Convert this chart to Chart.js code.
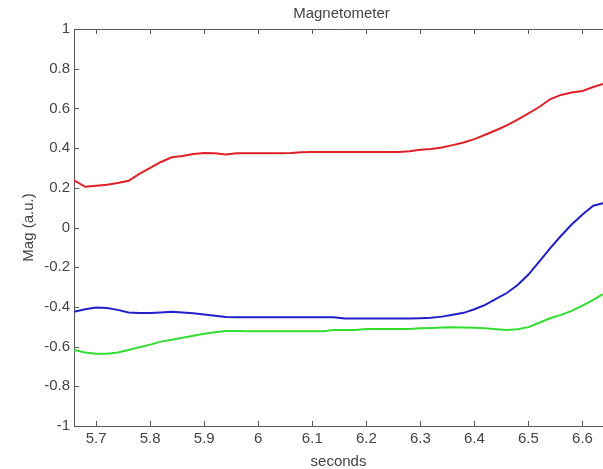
<!DOCTYPE html>
<html>
<head>
<meta charset="utf-8">
<script src="https://cdn.jsdelivr.net/npm/chart.js@4/dist/chart.umd.min.js"></script>
<style>
  html, body { margin: 0; padding: 0; background: #fff; }
  #wrap { width: 603px; height: 469px; }
</style>
</head>
<body>
<div id="wrap"><canvas id="myChart" width="603" height="469"></canvas></div>
<script>
// time samples (seconds)
const seconds = [5.659, 5.68, 5.70, 5.72, 5.74, 5.76, 5.78, 5.80, 5.82, 5.84, 5.86, 5.88, 5.90,
    5.92, 5.94, 5.96, 5.98, 6.00, 6.02, 6.04, 6.06, 6.08, 6.10, 6.12, 6.14, 6.16, 6.18, 6.20,
    6.22, 6.24, 6.26, 6.28, 6.30, 6.32, 6.34, 6.36, 6.38, 6.40, 6.42, 6.44, 6.46, 6.48, 6.50,
    6.52, 6.54, 6.56, 6.58, 6.60, 6.62, 6.638];

// magnetometer axes
const magRed = [0.238, 0.205, 0.210, 0.215, 0.224, 0.235, 0.270, 0.300, 0.330, 0.354, 0.360, 0.370, 0.375,
    0.374, 0.368, 0.374, 0.374, 0.374, 0.374, 0.374, 0.375, 0.379, 0.380, 0.380, 0.380, 0.380, 0.380, 0.380,
    0.380, 0.380, 0.380, 0.384, 0.392, 0.396, 0.403, 0.415, 0.428, 0.445, 0.467, 0.490, 0.514, 0.544, 0.575,
    0.607, 0.646, 0.668, 0.680, 0.688, 0.708, 0.723];

const magBlue = [-0.424, -0.412, -0.403, -0.406, -0.415, -0.428, -0.431, -0.431, -0.428, -0.424, -0.428, -0.432, -0.438,
    -0.445, -0.451, -0.452, -0.452, -0.452, -0.452, -0.452, -0.452, -0.452, -0.452, -0.452, -0.452, -0.459, -0.459, -0.459,
    -0.459, -0.459, -0.459, -0.459, -0.457, -0.455, -0.449, -0.440, -0.430, -0.412, -0.390, -0.360, -0.330, -0.290, -0.237,
    -0.172, -0.105, -0.043, 0.015, 0.066, 0.110, 0.122];

const magGreen = [-0.617, -0.630, -0.636, -0.636, -0.630, -0.617, -0.603, -0.590, -0.575, -0.566, -0.555, -0.545, -0.535,
    -0.528, -0.522, -0.521, -0.523, -0.523, -0.523, -0.523, -0.523, -0.523, -0.523, -0.523, -0.516, -0.516, -0.516, -0.511,
    -0.511, -0.511, -0.511, -0.511, -0.508, -0.506, -0.504, -0.503, -0.504, -0.505, -0.508, -0.512, -0.516, -0.512, -0.502,
    -0.480, -0.457, -0.440, -0.420, -0.394, -0.365, -0.335];

// tick labels
const xTicks = [5.7, 5.8, 5.9, 6.0, 6.1, 6.2, 6.3, 6.4, 6.5, 6.6];
const yTicks = [-1, -0.8, -0.6, -0.4, -0.2, 0, 0.2, 0.4, 0.6, 0.8, 1];

const titleText = 'Magnetometer';
const textColor = '#444444';
const axisColor = '#5a5a5a';
const fontFamily = '"Liberation Sans", Arial, sans-serif';

function toPoints(values) {
    return values.map((v, i) => ({ x: seconds[i], y: v }));
}

// box, inward ticks and title, matlab style
const matlabAxes = {
    id: 'matlabAxes',
    afterDraw(chart) {
        const { ctx, chartArea } = chart;
        const xs = chart.scales.x;
        const ys = chart.scales.y;
        ctx.save();
        ctx.strokeStyle = axisColor;
        ctx.lineWidth = 1;
        ctx.beginPath();
        ctx.moveTo(chartArea.left, chartArea.top + 0.5);
        ctx.lineTo(chartArea.right, chartArea.top + 0.5);
        xs.ticks.forEach(t => {
            const px = Math.round(xs.getPixelForValue(t.value)) + 0.5;
            ctx.moveTo(px, chartArea.bottom);
            ctx.lineTo(px, chartArea.bottom - 5);
            ctx.moveTo(px, chartArea.top);
            ctx.lineTo(px, chartArea.top + 5);
        });
        ys.ticks.forEach(t => {
            const py = Math.round(ys.getPixelForValue(t.value)) + 0.5;
            ctx.moveTo(chartArea.left, py);
            ctx.lineTo(chartArea.left + 5, py);
        });
        ctx.stroke();

        ctx.fillStyle = textColor;
        ctx.font = '15px ' + fontFamily;
        ctx.textAlign = 'center';
        ctx.textBaseline = 'middle';
        ctx.fillText(titleText, (chartArea.left + chartArea.right) / 2 + 3, 14);
        ctx.restore();
    }
};

const ctx = document.getElementById('myChart');

const chart = new Chart(ctx, {
    type: 'line',
    data: {
        datasets: [
            { label: 'x', data: toPoints(magRed), borderColor: 'rgb(222,32,40)', borderWidth: 2, pointRadius: 0 },
            { label: 'y', data: toPoints(magBlue), borderColor: 'rgb(32,32,200)', borderWidth: 2, pointRadius: 0 },
            { label: 'z', data: toPoints(magGreen), borderColor: 'rgb(50,222,50)', borderWidth: 2, pointRadius: 0 }
        ]
    },
    options: {
        responsive: false,
        animation: false,
        layout: { padding: { top: 29, left: 0, right: 0, bottom: 0 } },
        plugins: {
            legend: { display: false },
            title: { display: false },
            tooltip: { enabled: false }
        },
        scales: {
            x: {
                type: 'linear',
                min: 5.659,
                max: 6.638,
                afterBuildTicks: scale => { scale.ticks = xTicks.map(v => ({ value: v })); },
                afterFit: scale => { scale.height = 43; },
                grid: { display: false, drawTicks: false },
                border: { display: true, color: axisColor, width: 1 },
                ticks: {
                    padding: 4,
                    color: textColor,
                    font: { family: fontFamily, size: 15 },
                    maxRotation: 0,
                    autoSkip: false,
                    callback: v => String(Math.round(v * 10) / 10)
                },
                title: {
                    display: true,
                    text: 'seconds',
                    color: textColor,
                    font: { family: fontFamily, size: 15 },
                    padding: { top: 0, bottom: -2 }
                }
            },
            y: {
                min: -1,
                max: 1,
                afterBuildTicks: scale => { scale.ticks = yTicks.map(v => ({ value: v })); },
                afterFit: scale => { scale.width = 74; },
                grid: { display: false, drawTicks: false },
                border: { display: true, color: axisColor, width: 1 },
                ticks: {
                    padding: 4,
                    color: textColor,
                    font: { family: fontFamily, size: 15 },
                    autoSkip: false,
                    callback: v => String(Math.round(v * 10) / 10)
                },
                title: {
                    display: true,
                    text: 'Mag (a.u.)',
                    color: textColor,
                    font: { family: fontFamily, size: 15 },
                    padding: { top: 20, bottom: 0 }
                }
            }
        }
    },
    plugins: [matlabAxes]
});
</script>
</body>
</html>
